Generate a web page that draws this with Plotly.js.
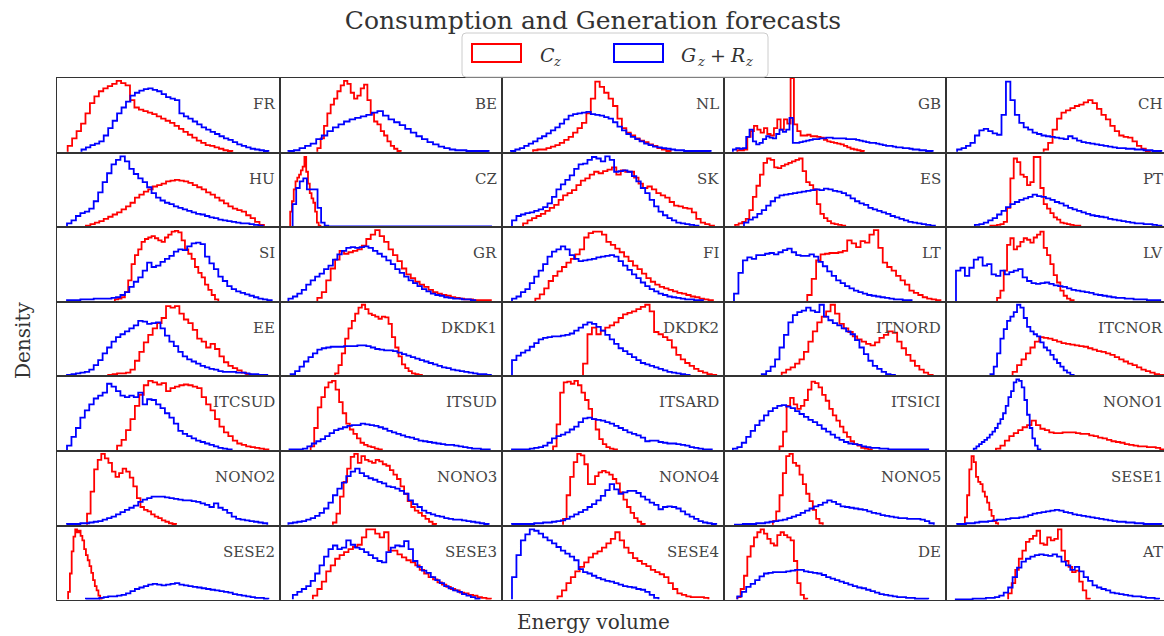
<!DOCTYPE html>
<html>
<head>
<meta charset="utf-8">
<script src="https://cdn.plot.ly/plotly-3.0.1.min.js"></script>
<style>
html,body{margin:0;padding:0;background:#fff;width:1164px;height:636px;overflow:hidden}
#chart{width:1170px;height:636px}
</style>
</head>
<body>
<div id="chart"></div>
<script>
// ---- Data: step histograms (bin start "lo", bin width "w" in normalised energy units, densities "h") ----
// C_z = consumption (red), G_z + R_z = generation (blue)
const zones = ["FR","BE","NL","GB","CH","HU","CZ","SK","ES","PT","SI","GR","FI","LT","LV",
  "EE","DKDK1","DKDK2","ITNORD","ITCNOR","ITCSUD","ITSUD","ITSARD","ITSICI","NONO1",
  "NONO2","NONO3","NONO4","NONO5","SESE1","SESE2","SESE3","SESE4","DE","AT"];

const FR_C = {lo:4.8, w:2, h:[8,18,28,38,52,66,75,82,86,89,92,96,93,90,70,60,57,55,53,51,48,45,42,39,35,31,27,23,19,15,12,9,8,6,4,2,1]};
const FR_G = {lo:11, w:2, h:[3,6,9,11,14,22,32,42,52,60,68,76,80,83,85,86,84,82,78,74,72,70,52,48,45,41,37,33,30,27,24,21,18,16,13,10,8,6,4,3,2,1]};
const BE_C = {lo:17, w:1.5, h:[5,18,35,52,64,72,82,90,96,92,80,72,76,86,91,70,52,41,37,28,22,14,8,4,1]};
const BE_G = {lo:4, w:2.5, h:[1,2,5,8,11,17,22,28,33,37,41,44,46,48,50,53,55,49,44,40,36,31,26,21,17,13,10,7,5,3,2,2,1,1,1,1]};
const NL_C = {lo:14, w:2, h:[2,3,3,5,7,9,12,16,20,26,32,39,52,72,95,88,80,72,62,45,32,26,22,18,15,13,10,8,5,3,1]};
const NL_G = {lo:4, w:2, h:[1,3,5,8,11,14,18,21,25,29,33,38,44,49,51,52,53,54,51,50,49,47,45,40,34,29,24,20,17,14,11,9,7,6,5,4,3,2,2,1,1,1,1,1,1]};
const GB_C = {lo:6, w:1.5, h:[2,2,3,20,28,35,30,26,32,24,22,32,44,30,44,38,100,37,28,22,22,23,21,21,20,19,16,14,13,12,11,10,8,6,4,3,2,1]};
const GB_G = {lo:4, w:1.5, h:[3,5,4,5,20,30,14,10,12,17,21,19,18,24,30,27,30,46,12,12,13,14,15,16,17,17,18,18,19,19,18,18,18,18,17,17,17,16,15,14,13,12,12,11,10,9,8,8,7,6,6,5,5,4,3,3,2,2,1,1]};
const CH_C = {lo:44, w:2, h:[3,12,30,45,53,56,59,62,64,67,70,66,58,50,44,35,28,22,20,19,14,8,4,1]};
const CH_G = {lo:5, w:2, h:[3,5,8,12,22,29,31,28,25,23,50,95,70,50,39,33,30,26,24,22,21,20,19,18,17,21,18,15,13,12,11,10,9,8,7,6,5,5,4,4,3,3,2,2,1,1]};

const HU_C = {lo:13, w:2, h:[1,3,5,7,10,13,16,19,23,27,32,39,43,47,50,54,56,58,61,62,63,62,61,59,56,53,50,46,43,39,35,31,27,24,22,20,15,11,6,2]};
const HU_G = {lo:4.5, w:2, h:[4,8,14,18,20,24,34,46,60,72,84,90,95,88,78,71,65,60,53,45,39,35,32,30,27,25,23,21,19,17,16,14,12,11,9,8,7,6,5,4,4,3,2,1]};
const CZ_C = {lo:4.8, w:0.8, h:[20,34,50,61,66,70,76,81,94,74,58,45,38,32,20,5,1]};
const CZ_G = {lo:5.9, w:1.6, h:[30,52,61,65,50,50,50,25,5,1,0,0,0,0,0,0,0,0,0,0,0,0,0,0,0,0,0,0,0,0,0,0,0,0,0,0,0,0,0,0,0,0,0,0,0,0,0,0,0,0,0,0,0,0,0,0]};
const SK_C = {lo:9.5, w:2, h:[4,8,11,14,17,21,25,29,36,42,45,49,56,62,65,70,74,72,75,77,80,70,76,74,74,66,58,52,54,50,45,42,39,33,28,27,25,24,19,10,5,3,1]};
const SK_G = {lo:4.5, w:2, h:[8,14,16,18,19,21,23,26,31,40,50,57,63,69,78,84,85,90,94,92,88,95,90,74,75,76,74,68,61,52,45,36,27,20,15,11,8,5,4,3,2,1]};
const ES_C = {lo:5, w:1.6, h:[2,4,6,10,22,40,55,70,86,92,90,80,79,82,84,86,88,90,92,75,60,56,50,30,17,11,7,4,3,2,1]};
const ES_G = {lo:9, w:2, h:[5,9,12,17,22,28,34,39,42,43,44,45,46,47,48,49,50,49,51,50,48,47,45,42,38,34,31,29,25,23,21,19,17,14,12,10,8,6,5,4,3,2,1]};
const PT_C = {lo:20, w:1.5, h:[1,1,2,3,6,25,65,92,87,70,67,56,60,94,94,52,30,24,18,12,9,5,4,3,2,1,1]};
const PT_G = {lo:13, w:2, h:[2,3,5,8,11,16,21,26,30,33,36,38,40,43,41,40,38,36,33,31,28,25,23,21,19,17,15,14,13,12,10,9,8,7,6,5,4,4,3,3,2,1]};

const SI_C = {lo:26, w:1.5, h:[2,3,5,12,28,50,62,70,80,84,86,88,85,82,80,86,90,94,95,93,82,70,64,57,46,38,32,22,15,8,2]};
const SI_G = {lo:4.5, w:2, h:[1,1,1,2,2,2,3,3,3,3,4,5,8,12,19,26,32,41,52,46,48,53,57,61,67,70,69,74,78,79,77,60,51,43,33,27,20,16,13,11,9,7,5,3,2,1]};
const GR_C = {lo:17, w:2, h:[4,12,28,44,56,68,64,66,68,70,75,84,90,96,88,80,70,62,54,44,36,31,26,22,19,15,12,10,8,7,5,4,3,2,2,1,1,1,1]};
const GR_G = {lo:4, w:2, h:[3,6,10,15,22,28,33,37,43,48,56,63,68,72,73,72,73,74,72,68,64,60,55,50,43,38,33,28,24,20,16,13,10,8,7,5,4,3,3,2,2,1]};
const FI_C = {lo:15, w:2, h:[3,9,17,27,34,40,46,52,57,63,70,86,92,94,94,90,80,76,71,66,60,54,48,43,37,31,26,22,19,17,15,13,11,10,8,6,5,3,2,1]};
const FI_G = {lo:4.5, w:2, h:[3,6,12,16,24,33,41,50,60,67,70,74,70,62,57,54,55,56,57,59,60,61,62,60,54,48,42,36,31,25,20,16,13,10,8,6,5,4,3,2,2,1,1]};
const LT_C = {lo:37.5, w:2, h:[8,30,55,63,64,65,65,66,68,82,78,73,81,79,90,96,72,52,46,41,34,28,22,14,11,8,5,3,2,1]};
const LT_G = {lo:4.5, w:2, h:[10,38,55,59,57,62,62,64,65,63,66,69,71,66,62,61,61,63,60,53,47,40,34,28,24,20,17,14,12,10,8,7,6,5,4,3,2,2,1,1]};
const LV_C = {lo:23, w:1.5, h:[4,14,41,76,85,70,74,80,85,83,79,86,90,94,72,62,50,35,25,14,7,3,1]};
const LV_G = {lo:4.5, w:2, h:[41,45,34,45,56,59,48,50,36,34,41,36,39,41,43,32,27,24,23,24,25,23,21,20,19,17,15,14,13,12,11,9,8,7,6,5,4,4,3,3,2,2,2,1,1,1]};

const EE_C = {lo:23, w:2, h:[1,2,3,3,4,8,20,32,45,55,64,71,78,94,92,94,84,76,71,62,50,46,38,43,36,26,18,13,10,7,4,2,1]};
const EE_G = {lo:4.5, w:2, h:[1,2,3,4,5,8,14,21,30,38,46,52,56,60,64,68,74,73,70,71,72,64,54,46,40,32,26,22,19,16,13,11,9,8,6,5,5,5,4,4,3,2,2,1,1]};
const DKDK1_C = {lo:25, w:1.5, h:[3,14,30,50,64,74,84,92,96,90,84,82,80,77,80,79,70,52,38,26,15,10,6,3,2,1]};
const DKDK1_G = {lo:5, w:2, h:[2,6,12,19,25,30,35,37,38,39,39,39,40,40,40,41,41,40,38,36,35,34,34,33,31,29,27,25,23,21,19,17,15,13,11,10,8,7,6,5,4,3,2,2,1]};
const DKDK2_C = {lo:36.5, w:2, h:[16,56,65,56,61,65,68,72,78,83,85,87,90,93,96,87,59,56,52,48,38,28,22,17,13,9,6,4,2,1]};
const DKDK2_G = {lo:4.5, w:2, h:[21,27,31,34,39,44,49,51,52,53,53,54,55,57,61,65,69,72,70,66,61,55,49,43,37,33,29,25,21,17,15,13,11,9,7,5,4,3,2,1]};
const ITNORD_C = {lo:26, w:2, h:[4,8,11,16,22,32,46,60,72,80,87,96,84,70,64,59,53,49,46,43,41,45,51,55,60,58,46,37,28,20,13,8,4,1]};
const ITNORD_G = {lo:17, w:2, h:[2,6,12,22,38,55,72,82,86,88,92,88,86,96,80,75,71,68,64,60,56,48,38,29,20,13,9,5,2,1]};
const ITCNOR_C = {lo:30, w:2, h:[5,14,22,30,38,46,52,51,50,48,46,44,43,42,41,40,39,37,35,33,32,30,28,25,22,19,16,14,11,8,6,4,2,1]};
const ITCNOR_G = {lo:20, w:1.5, h:[2,12,30,50,63,74,80,86,96,92,78,66,60,56,53,45,38,34,28,22,17,12,7,4,1]};

const ITCSUD_C = {lo:27, w:2, h:[6,14,27,42,60,75,88,94,92,89,91,80,84,86,88,89,88,86,84,72,62,54,42,32,24,19,13,9,7,5,4,3,2,1]};
const ITCSUD_G = {lo:4.5, w:2, h:[6,18,30,44,54,62,70,74,78,90,86,80,74,72,74,72,78,62,69,68,62,57,50,44,36,26,22,19,16,13,11,9,7,5,3,2,1]};
const ITSUD_C = {lo:14, w:1.6, h:[5,30,58,72,85,92,94,82,65,50,36,28,22,16,10,7,5,4,2,1]};
const ITSUD_G = {lo:4.5, w:2, h:[1,1,1,2,5,9,12,15,19,23,27,29,31,33,34,34,36,35,34,33,31,29,26,24,22,20,18,17,15,13,12,11,10,9,8,7,7,6,5,4,3,2,2,1,1]};
const ITSARD_C = {lo:23, w:1.6, h:[5,35,78,92,93,90,94,88,78,68,56,42,28,15,8,4,2,1]};
const ITSARD_G = {lo:4.5, w:2, h:[1,1,1,1,2,3,4,6,10,16,19,21,24,28,32,38,43,44,42,41,40,38,36,33,30,27,24,22,20,17,12,13,13,11,10,9,9,8,7,6,4,3,2,1,1]};
const ITSICI_C = {lo:25, w:1.6, h:[5,25,60,71,62,56,60,68,82,93,91,85,75,67,56,47,40,32,24,18,12,8,6,3,2,1]};
const ITSICI_G = {lo:4, w:2, h:[2,4,10,18,26,34,40,47,53,57,60,61,59,57,53,49,45,41,38,34,29,25,21,17,14,11,9,8,7,5,4,3,3,2,2,1,1,1,1,1,1,1,1,1]};
const NONO1_C = {lo:22.5, w:2, h:[2,6,13,19,23,27,31,34,40,34,29,27,24,23,23,24,24,24,23,22,22,20,19,17,16,14,12,11,10,8,7,6,5,5,4,4,3,1]};
const NONO1_G = {lo:12.5, w:1.2, h:[2,5,8,11,14,17,21,25,30,36,42,50,60,72,80,92,96,94,85,68,48,30,16,6,1]};

const NONO2_C = {lo:13.5, w:1.6, h:[15,45,75,88,96,90,84,72,65,70,76,72,64,52,36,24,20,18,14,11,9,6,4,2,1]};
const NONO2_G = {lo:4.5, w:2, h:[1,1,1,2,2,3,4,5,7,9,11,14,17,20,23,26,31,34,36,38,38,38,37,36,35,34,33,33,32,31,29,27,24,29,23,20,16,11,8,7,6,5,4,3,2]};
const NONO3_C = {lo:24, w:1.6, h:[3,15,38,58,76,92,96,84,93,88,86,84,88,86,82,80,74,68,62,52,42,32,24,19,16,12,8,4,1]};
const NONO3_G = {lo:4, w:2, h:[2,3,4,5,7,9,12,16,22,30,40,49,57,66,72,76,70,66,63,61,58,56,52,51,49,46,42,33,28,24,19,16,14,12,11,9,8,7,7,6,5,4,3,2,1]};
const NONO4_C = {lo:27.5, w:1.6, h:[8,40,65,85,96,94,82,55,55,66,71,73,71,68,62,56,44,34,24,16,9,4,1]};
const NONO4_G = {lo:4.5, w:2, h:[1,1,1,1,1,2,2,3,3,4,5,6,8,11,14,17,20,24,28,33,39,47,55,48,42,44,46,46,43,38,34,30,27,21,24,25,24,22,18,14,11,8,5,3,2,1]};
const NONO5_C = {lo:22, w:1.5, h:[5,18,40,70,93,96,84,80,68,55,42,32,20,8,2]};
const NONO5_G = {lo:4.5, w:2, h:[0,0,1,1,1,2,2,3,4,5,6,7,9,11,13,16,19,22,25,27,30,33,31,28,25,24,23,22,21,20,18,16,15,13,12,11,10,9,9,8,8,8,7,5,2]};
const SESE1_C = {lo:8.5, w:1, h:[10,40,75,93,85,65,58,55,45,38,30,20,12,5,2]};
const SESE1_G = {lo:5, w:2, h:[1,1,2,2,3,4,4,5,6,7,7,8,9,9,10,11,13,15,16,17,18,19,20,19,17,16,14,13,12,11,10,9,8,7,6,5,4,4,3,3,2,2,1,1,1,1]};

const SESE2_C = {lo:5, w:0.8, h:[10,35,65,85,95,91,93,86,80,68,60,53,45,36,26,18,12,5,1]};
const SESE2_G = {lo:13, w:2, h:[1,1,1,2,3,4,4,5,6,8,11,14,16,18,20,21,20,19,20,21,22,20,19,18,17,16,15,14,13,12,11,10,9,7,6,5,4,3,2,2,1]};
const SESE3_C = {lo:15, w:2, h:[5,14,24,38,46,55,60,64,68,71,74,84,95,95,89,84,91,66,66,61,57,53,50,46,40,35,30,27,23,20,17,14,12,9,8,6,5,3,2,1]};
const SESE3_G = {lo:6, w:2, h:[6,10,14,18,25,35,46,58,68,73,68,70,80,74,70,68,64,60,56,52,50,64,70,73,72,79,68,52,44,39,36,30,26,22,18,15,12,10,7,5,3,1]};
const SESE4_C = {lo:25, w:2, h:[4,12,22,30,38,44,50,57,62,65,70,76,82,91,80,70,63,56,52,48,45,40,37,34,30,22,14,8,6,4,3,3,3,2]};
const SESE4_G = {lo:4.5, w:2, h:[30,60,80,88,95,93,89,84,80,76,71,66,62,58,53,41,37,35,32,29,27,25,24,22,20,18,17,16,14,13,10,6,2]};
const DE_C = {lo:6, w:1.5, h:[3,14,32,58,72,84,91,95,89,82,76,73,87,91,87,84,80,52,22,6,1]};
const DE_G = {lo:6, w:2, h:[4,10,17,21,26,31,35,36,37,37,37,38,39,40,40,38,37,36,35,33,30,28,26,24,22,20,18,16,15,13,11,9,7,6,5,4,3,3,2,2,1,1,1]};
const AT_C = {lo:28, w:1.6, h:[8,22,40,55,66,78,82,86,93,76,74,84,80,82,95,66,52,44,37,39,24,12,1]};
const AT_G = {lo:4, w:2, h:[0,0,0,0,1,1,1,2,2,3,5,9,16,30,43,51,55,58,60,61,60,59,61,58,51,46,40,44,38,30,25,19,16,14,12,9,8,7,6,5,4,4,3,2,2,1]};

const consumption = [FR_C,BE_C,NL_C,GB_C,CH_C,HU_C,CZ_C,SK_C,ES_C,PT_C,SI_C,GR_C,FI_C,LT_C,LV_C,
  EE_C,DKDK1_C,DKDK2_C,ITNORD_C,ITCNOR_C,ITCSUD_C,ITSUD_C,ITSARD_C,ITSICI_C,NONO1_C,
  NONO2_C,NONO3_C,NONO4_C,NONO5_C,SESE1_C,SESE2_C,SESE3_C,SESE4_C,DE_C,AT_C];
const generation = [FR_G,BE_G,NL_G,GB_G,CH_G,HU_G,CZ_G,SK_G,ES_G,PT_G,SI_G,GR_G,FI_G,LT_G,LV_G,
  EE_G,DKDK1_G,DKDK2_G,ITNORD_G,ITCNOR_G,ITCSUD_G,ITSUD_G,ITSARD_G,ITSICI_G,NONO1_G,
  NONO2_G,NONO3_G,NONO4_G,NONO5_G,SESE1_G,SESE2_G,SESE3_G,SESE4_G,DE_G,AT_G];

// ---- Layout geometry ----
const W = 1170, H = 636;
const colEdges = [57, 279.5, 502, 724, 946, 1168];
const rowEdges = [78, 152.6, 227.2, 301.8, 376.4, 451, 525.6, 600.2];
const SERIF = "DejaVu Serif";
const RED = "#ff0000", BLUE = "#0000ff", INK = "#333333";

function stepXY(s){
  const x = [s.lo], y = [0];
  s.h.forEach((v, i) => { x.push(s.lo + i * s.w); y.push(v); });
  x.push(s.lo + s.h.length * s.w); y.push(0);
  return {x, y};
}

const traces = [];
const layout = {
  width: W, height: H,
  margin: {l:0, r:0, t:0, b:0},
  paper_bgcolor: "#ffffff", plot_bgcolor: "#ffffff",
  showlegend: false,
  title: {text: "Consumption and Generation forecasts",
    font: {family: SERIF, size: 25, color: INK},
    x: 593 / W, xref: "container", xanchor: "center",
    y: 1 - 20 / H, yref: "container", yanchor: "middle"},
  annotations: [], shapes: []
};

zones.forEach((name, k) => {
  const r = Math.floor(k / 5), c = k % 5;
  const s = k === 0 ? "" : String(k + 1);
  const axStyle = {showline: true, mirror: true, linecolor: INK, linewidth: 1,
    showgrid: false, zeroline: false, showticklabels: false, ticks: "", fixedrange: true};
  layout["xaxis" + s] = Object.assign({}, axStyle, {
    domain: [colEdges[c] / W, colEdges[c + 1] / W], range: [0, 100], anchor: "y" + s});
  layout["yaxis" + s] = Object.assign({}, axStyle, {
    domain: [1 - rowEdges[r + 1] / H, 1 - rowEdges[r] / H], range: [-1.2, 100], anchor: "x" + s});
  const cz = stepXY(consumption[k]);
  const gz = stepXY(generation[k]);
  traces.push({x: cz.x, y: cz.y, xaxis: "x" + s, yaxis: "y" + s, mode: "lines",
    line: {shape: "hv", color: RED, width: 1.8}, hoverinfo: "skip", name: "C_z " + name});
  traces.push({x: gz.x, y: gz.y, xaxis: "x" + s, yaxis: "y" + s, mode: "lines",
    line: {shape: "hv", color: BLUE, width: 1.8}, hoverinfo: "skip", name: "G_z+R_z " + name});
  layout.annotations.push({xref: "x" + s + " domain", yref: "y" + s + " domain", x: 1, y: 1,
    xanchor: "right", yanchor: "middle", xshift: -3, yshift: -26, showarrow: false,
    text: name, font: {family: SERIF, size: 15, color: "#444444"}});
});

// axis labels
layout.annotations.push({xref: "paper", yref: "paper", x: 593 / W, y: 1 - 622 / H,
  xanchor: "center", yanchor: "middle", showarrow: false, text: "Energy volume",
  font: {family: SERIF, size: 20, color: INK}});
layout.annotations.push({xref: "paper", yref: "paper", x: 23 / W, y: 1 - 341 / H,
  xanchor: "center", yanchor: "middle", showarrow: false, text: "Density", textangle: -90,
  font: {family: SERIF, size: 20, color: INK}});

// legend (frame, patches, labels)
function px2x(p){ return p / W; }
function px2y(p){ return 1 - p / H; }
function legendText(txt, xpx, ypx, size, italic){
  layout.annotations.push({xref: "paper", yref: "paper", x: px2x(xpx), y: px2y(ypx),
    xanchor: "left", yanchor: "middle", showarrow: false, text: txt,
    font: {family: SERIF, size: size, color: INK, style: italic ? "italic" : "normal"}});
}
(function(){
  const x0 = px2x(462), x1 = px2x(768), yb = px2y(77), yt = px2y(33);
  const rx = 4 / W, ry = 4 / H;
  const path = `M ${x0+rx},${yt} L ${x1-rx},${yt} Q ${x1},${yt} ${x1},${yt-ry} L ${x1},${yb+ry} Q ${x1},${yb} ${x1-rx},${yb} L ${x0+rx},${yb} Q ${x0},${yb} ${x0},${yb+ry} L ${x0},${yt-ry} Q ${x0},${yt} ${x0+rx},${yt} Z`;
  layout.shapes.push({type: "path", xref: "paper", yref: "paper", path: path,
    fillcolor: "rgba(255,255,255,0.85)", line: {color: "#cccccc", width: 1}, layer: "above"});
  layout.shapes.push({type: "rect", xref: "paper", yref: "paper",
    x0: px2x(472), x1: px2x(521), y0: px2y(62), y1: px2y(44),
    fillcolor: "rgba(0,0,0,0)", line: {color: RED, width: 2}, layer: "above"});
  layout.shapes.push({type: "rect", xref: "paper", yref: "paper",
    x0: px2x(614), x1: px2x(663), y0: px2y(62), y1: px2y(44),
    fillcolor: "rgba(0,0,0,0)", line: {color: BLUE, width: 2}, layer: "above"});
  // C_z
  legendText("C", 538, 55, 19, true);
  legendText("z", 551, 62, 13, true);
  // G_z + R_z
  legendText("G", 679, 55, 19, true);
  legendText("z", 695, 62, 13, true);
  legendText("+", 708, 55, 19, false);
  legendText("R", 728, 55, 19, true);
  legendText("z", 743, 62, 13, true);
})();

Plotly.newPlot("chart", traces, layout, {displayModeBar: false, staticPlot: true});
</script>
</body>
</html>
